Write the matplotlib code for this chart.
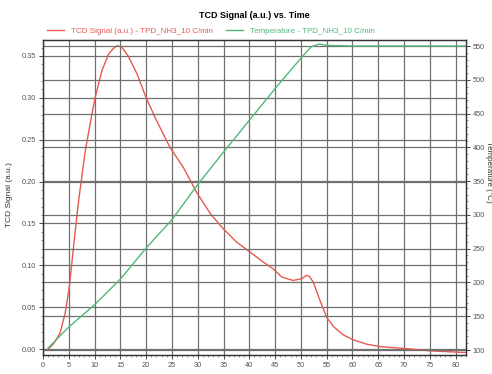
import numpy as np
import matplotlib
matplotlib.use("Agg")
import matplotlib.pyplot as plt
from matplotlib.ticker import MultipleLocator

plt.rcParams['font.family'] = ['Liberation Sans', 'DejaVu Sans']

# TCD signal readings (minutes, a.u.)
time_tcd = [1.0, 2.0, 3.3, 4.3, 5.1, 5.9, 6.9, 8.2, 9.5, 10.1, 11.4, 12.7, 13.5,
            14.3, 15.2, 16.5, 18.2, 20.0, 22.0, 24.6, 27.2, 29.8, 32.4, 34.9,
            37.5, 40.1, 42.7, 44.6, 46.3, 48.5, 50.1, 51.1, 51.6, 52.4, 53.7,
            55.0, 56.3, 58.2, 60.2, 62.7, 65.3, 69.8, 75.0, 78.2, 82.0]
tcd = [0.000, 0.006, 0.019, 0.043, 0.074, 0.121, 0.177, 0.237, 0.281, 0.300,
       0.332, 0.352, 0.358, 0.362, 0.361, 0.350, 0.329, 0.300, 0.273, 0.241,
       0.217, 0.187, 0.162, 0.144, 0.128, 0.116, 0.104, 0.096, 0.086, 0.082,
       0.084, 0.088, 0.087, 0.080, 0.058, 0.038, 0.027, 0.017, 0.011, 0.006,
       0.003, 0.001, -0.002, -0.003, -0.004]

# furnace temperature (minutes, deg C)
time_temp = [1.0, 5.0, 10.0, 15.0, 20.0, 25.0, 30.0, 35.0, 40.0, 45.0, 50.0,
             52.0, 53.5, 55.0, 60.0, 70.0, 82.0]
temp = [103, 134, 167, 205, 251, 293, 345, 393, 440, 487, 532, 549, 553, 551,
        550, 550, 550]

red = '#e8584f'
green = '#4fb878'
grid_col = '#707070'
label_col = '#555555'

fig = plt.figure(figsize=(4.92, 3.74), dpi=100)
ax = fig.add_axes([0.0874, 0.0508, 0.8597, 0.8422])
ax2 = ax.twinx()

l1, = ax.plot(time_tcd, tcd, color=red, lw=1.0, zorder=3,
              label='TCD Signal (a.u.) - TPD_NH3_10 C/min')
l2, = ax2.plot(time_temp, temp, color=green, lw=1.0, zorder=3,
               label='Temperature - TPD_NH3_10 C/min')

ax.set_xlim(0, 82)
ax.set_ylim(-0.007, 0.369)
ax2.set_ylim(92.6, 558.9)

ax.xaxis.set_major_locator(MultipleLocator(5))
ax.xaxis.set_minor_locator(MultipleLocator(1))
ax.yaxis.set_major_locator(MultipleLocator(0.05))
ax.yaxis.set_minor_locator(MultipleLocator(0.01))
ax2.yaxis.set_major_locator(MultipleLocator(50))
ax2.yaxis.set_minor_locator(MultipleLocator(10))
ax.yaxis.set_major_formatter(matplotlib.ticker.FormatStrFormatter('%.2f'))

ax.grid(True, which='major', color=grid_col, lw=0.9)
ax2.grid(True, which='major', axis='y', color=grid_col, lw=0.9)
ax.set_axisbelow(True)

for a in (ax, ax2):
    a.tick_params(which='major', length=3, width=0.7, color='#444444',
                  labelsize=5.3, labelcolor=label_col, pad=2)
    a.tick_params(which='minor', length=1.5, width=0.5, color='#666666')
    for s in a.spines.values():
        s.set_color('#333333')
        s.set_linewidth(0.9)

ax.set_title('TCD Signal (a.u.) vs. Time', fontsize=6.5, fontweight='bold',
             pad=16)
fig.legend(handles=[l1, l2], loc='center left', bbox_to_anchor=(0.08, 0.917),
           ncol=2, frameon=False, fontsize=5.8, labelcolor='linecolor',
           handlelength=2.2, columnspacing=1.6, handletextpad=0.8)

ax.set_xlabel('Time (minutes)', fontsize=6, color='#333333')
ax.xaxis.set_label_coords(0.5, -0.063)
ax.set_ylabel('TCD Signal (a.u.)', fontsize=6, color='#333333')
ax.yaxis.set_label_coords(-0.07, 0.51)
ax2.set_ylabel('Temperature (°C)', fontsize=5.8, color='#333333', rotation=270)
ax2.yaxis.set_label_coords(1.064, 0.58)

fig.savefig('out.png', dpi=100)
